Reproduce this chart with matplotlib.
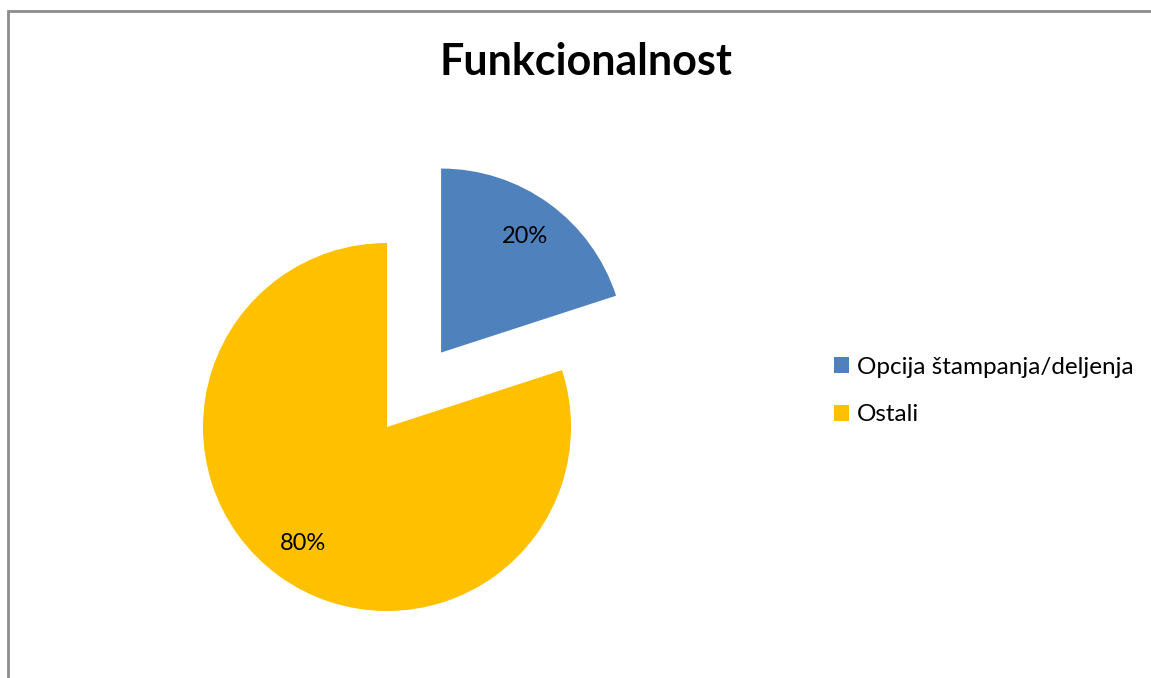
import matplotlib.pyplot as plt
from matplotlib.lines import Line2D

plt.rcParams['font.family'] = ['Lato', 'DejaVu Sans']

# data
labels = ['Opcija štampanja/deljenja', 'Ostali']
values = [20, 80]
colors = ['#4F81BD', '#FFC000']
title = 'Funkcionalnost'

W, H = 1151, 678
R = 184
fig = plt.figure(figsize=(W / 100, H / 100), dpi=100)
ax = fig.add_axes([0, 0, 1, 1])

# explode is an absolute offset in data units here, so scale by the radius
wedges, texts = ax.pie(values, colors=colors, startangle=90, counterclock=False,
                       explode=[0.5 * R, 0], center=(387, H - 427), radius=R,
                       autopct='%d%%', pctdistance=0.78,
                       textprops={'fontsize': 17, 'color': '#000000'},
                       wedgeprops={'linewidth': 0})[:2]

# pie() resets the limits, so set the pixel-like frame afterwards
ax.set_xlim(0, W)
ax.set_ylim(0, H)
ax.set_aspect('equal')
ax.axis('off')

# chart frame: only the left and top edges show in the picture
fig.add_artist(Line2D([8 / W, 8 / W, 1.05], [-0.05, 1 - 11 / H, 1 - 11 / H],
                      transform=fig.transFigure, color='#8c8c8c', linewidth=2,
                      solid_joinstyle='miter'))

fig.text(586 / W, 1 - 75 / H, title, ha='center', va='baseline',
         fontsize=31, fontweight='bold')

fig.legend(wedges, labels, loc='center left', bbox_to_anchor=(824 / W, 1 - 391 / H),
           frameon=False, fontsize=17.5, handlelength=0.62, handleheight=0.62,
           handletextpad=0.35, labelspacing=1.1, borderaxespad=0)

fig.savefig('out.png', dpi=100)
